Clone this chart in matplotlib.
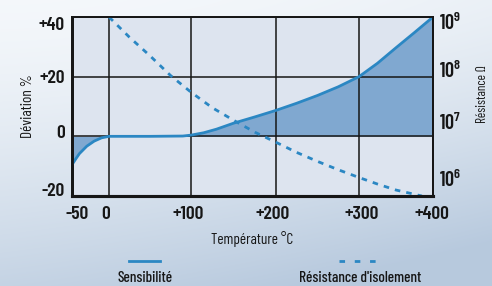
import numpy as np
import matplotlib
matplotlib.use('Agg')
import matplotlib.pyplot as plt
from matplotlib.lines import Line2D
import matplotlib.transforms as mtransforms

# ---------------- data ----------------
sens_temp = [-50, -45, -40, -30, -20, -10, 0, 50, 90, 100, 115, 130, 150, 175,
             200, 225, 250, 275, 300, 325, 350, 375, 400]
sens_dev = [-9.5, -7.6, -5.8, -3.3, -1.6, -0.5, 0, 0, 0.1, 0.4, 1.2, 2.4, 4.4, 6.5,
            8.7, 11.1, 13.7, 16.6, 20.0, 24.5, 29.7, 34.8, 40.0]

res_temp = [0, 25, 50, 75, 100, 125, 150, 175, 200, 225, 250, 275, 300, 325, 350, 385]
res_log10_ohm = [9.0, 8.66, 8.35, 8.02, 7.74, 7.48, 7.27, 7.07, 6.9, 6.73, 6.58,
                 6.44, 6.31, 6.2, 6.1, 6.0]

x_ticks = [-50, 0, 100, 200, 300, 400]
x_tick_labels = ['-50', '0', '+100', '+200', '+300', '+400']
x_label_shift_px = [5, -3, -3, -3, 3, -1]
x_minor = [50, 150, 250, 350]
y_ticks = [-20, 0, 20, 40]
y_tick_labels = ['-20', '0', '+20', '+40']
y_label_shift_px = [6, 5, 0, -7]
r_ticks = [1e6, 1e7, 1e8, 1e9]
r_tick_labels = [r'$10^{6}$', r'$10^{7}$', r'$10^{8}$', r'$10^{9}$']
r_label_shift_px = [16, 13, 6, -6]

# slightly non-uniform temperature axis of the original drawing
axis_temp_bp = [-50, 0, 100, 200, 300, 400]
axis_pos_bp = [0, 37, 119, 204, 287, 361]

MAINFONT = 'Barlow Condensed'
FONT = [MAINFONT, 'Roboto Condensed', 'DejaVu Sans']
plt.rcParams['font.family'] = FONT
plt.rcParams['font.weight'] = 'medium'
plt.rcParams['mathtext.fontset'] = 'custom'
plt.rcParams['mathtext.rm'] = MAINFONT + ':semibold'
plt.rcParams['mathtext.it'] = MAINFONT + ':semibold'
plt.rcParams['mathtext.bf'] = MAINFONT + ':bold'

LINE = '#2b87c3'
FILL = '#80a8d0'
FACE = '#dde4ef'
INK = '#161616'
TICKSIZE = 14

fig = plt.figure(figsize=(4.92, 2.86), dpi=100)

# soft sky-like background
bg = fig.add_axes([0, 0, 1, 1], zorder=-10)
H, W = 286, 492
yy, xx = np.mgrid[0:H, 0:W]
yf = yy / H
xf = xx / W
w = np.clip(0.05 + 0.75 * yf ** 1.4 + 0.25 * xf * yf + 0.15 * xf ** 2, 0, 1)
top = np.array([0.97, 0.98, 0.99])
bot = np.array([0.72, 0.79, 0.87])
img = top[None, None, :] * (1 - w[..., None]) + bot[None, None, :] * w[..., None]
bg.imshow(img, aspect='auto', extent=[0, 1, 0, 1])
bg.set_axis_off()

ax = fig.add_axes([72 / 492, 1 - 196 / 286, 361 / 492, 179 / 286])
ax.set_facecolor(FACE)


def fwd(t):
    return np.interp(t, axis_temp_bp, axis_pos_bp)


def inv(p):
    return np.interp(p, axis_pos_bp, axis_temp_bp)


ax.set_xscale('function', functions=(fwd, inv))
ax.set_xlim(-50, 400)
ax.set_ylim(-20, 40)

ax.fill_between(sens_temp, sens_dev, 0, color=FILL, lw=0, zorder=1)
ax.plot(sens_temp, sens_dev, color=LINE, lw=2.0, zorder=3, solid_capstyle='round')

ax.set_xticks(x_ticks)
ax.set_xticklabels(x_tick_labels, weight='semibold')
ax.set_xticks(x_minor, minor=True)
ax.set_yticks(y_ticks)
ax.set_yticklabels(y_tick_labels, weight='semibold')
ax.grid(which='both', color=INK, lw=1.1, zorder=2)
ax.tick_params(which='both', length=0, labelsize=TICKSIZE, colors=INK)
ax.tick_params(axis='x', pad=7)
ax.tick_params(axis='y', pad=5)

ax.set_xlabel('Température °C', fontsize=11, color=INK, labelpad=6)
ax.set_ylabel('Déviation %', fontsize=11, color=INK, labelpad=3)

ax2 = ax.twinx()
ax2.set_yscale('log')
ax2.set_ylim(1e6, 1e9)
res_ohm = [10 ** v for v in res_log10_ohm]
ax2.plot(res_temp, res_ohm, color=LINE, lw=2.0, dashes=(2, 2.2))
ax2.set_yticks(r_ticks)
ax2.set_yticklabels([])
ax2.minorticks_off()
ax2.tick_params(which='both', length=0)
trans = mtransforms.blended_transform_factory(ax2.transAxes, ax2.transData)
for val, lab, dy in zip(r_ticks, r_tick_labels, r_label_shift_px):
    off = mtransforms.ScaledTranslation(0, dy / 100, fig.dpi_scale_trans)
    ax2.text(1.017, val, lab, transform=trans + off, ha='left', va='center',
             fontsize=TICKSIZE + 0.5, color=INK)
ax2.set_ylabel('Résistance Ω', fontsize=9.5, color=INK)
ax2.yaxis.set_label_coords((476 - 72) / 361, (196 - 94) / 179)

# per-label nudges matching the original artwork
fig.canvas.draw()
for lbl, dx in zip(ax.get_xticklabels(), x_label_shift_px):
    lbl.set_transform(lbl.get_transform() +
                      mtransforms.ScaledTranslation(dx / 100, 0, fig.dpi_scale_trans))
for lbl, dy in zip(ax.get_yticklabels(), y_label_shift_px):
    lbl.set_transform(lbl.get_transform() +
                      mtransforms.ScaledTranslation(0, dy / 100, fig.dpi_scale_trans))

for a in (ax, ax2):
    a.spines['left'].set_linewidth(2.0)
    a.spines['bottom'].set_linewidth(2.2)
    a.spines['top'].set_linewidth(1.3)
    a.spines['right'].set_linewidth(1.3)
    for s in a.spines.values():
        s.set_color(INK)

# legend below the chart
fig.add_artist(Line2D([129 / 492, 160 / 492], [1 - 261 / 286] * 2,
                      color=LINE, lw=2.0, transform=fig.transFigure))
fig.text(145 / 492, 1 - 278 / 286, 'Sensibilité', ha='center', va='center',
         fontsize=11, color=INK)
fig.add_artist(Line2D([339 / 492, 381 / 492], [1 - 261 / 286] * 2,
                      color=LINE, lw=2.0, dashes=(2, 3.5), transform=fig.transFigure))
fig.text(360 / 492, 1 - 278 / 286, "Résistance d'isolement", ha='center', va='center',
         fontsize=11, color=INK)

fig.savefig('out.png', dpi=100)
